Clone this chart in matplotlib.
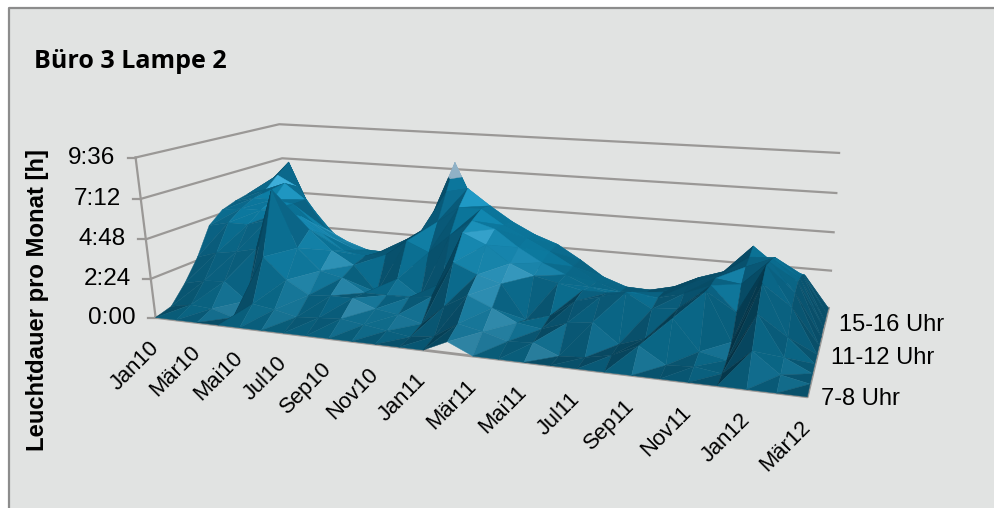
import numpy as np
import matplotlib
matplotlib.use("Agg")
import matplotlib.pyplot as plt
from matplotlib.collections import PolyCollection
from matplotlib.colors import LinearSegmentedColormap

title = "Büro 3 Lampe 2"
ylabel = "Leuchtdauer pro Monat [h]"
months = ["Jan10", "Feb10", "Mär10", "Apr10", "Mai10", "Jun10", "Jul10", "Aug10", "Sep10",
          "Okt10", "Nov10", "Dez10", "Jan11", "Feb11", "Mär11", "Apr11", "Mai11", "Jun11",
          "Jul11", "Aug11", "Sep11", "Okt11", "Nov11", "Dez11", "Jan12", "Feb12", "Mär12"]
hours = ["7-8 Uhr", "8-9 Uhr", "9-10 Uhr", "10-11 Uhr", "11-12 Uhr", "12-13 Uhr",
         "13-14 Uhr", "14-15 Uhr", "15-16 Uhr", "16-17 Uhr", "17-18 Uhr"]
zticks = [0, 2.4, 4.8, 7.2, 9.6]
zticklabels = ["0:00", "2:24", "4:48", "7:12", "9:36"]

# Stunden pro Monat, eine Liste je Tageszeit
h07 = [0, 0, 0, 0, 0, 0, 0, 0, 0, 0, 0, 0, 0, 0.65, 0, 0, 0, 0, 0, 0, 0, 0, 0, 0, 0, 0, 0]
h08 = [0.25, 0.5, 0.4, 0, 1.0, 0.8, 0.5, 0.6, 0.7, 0.5, 0.3, 0.1, 0.3, 1.2, 0.9, 0.5, 0.6, 0, 0.1, 0.4, 1.1, 0.2, 0.3, 0.1, 1.5, 0.4, 0.1]
h09 = [1.3, 1.6, 1.7, 0.6, 3.5, 2.2, 1.4, 1.5, 1.5, 1.0, 0.8, 0.4, 1.6, 2.4, 1.8, 1.1, 0.9, 1.4, 1.6, 0.5, 1.0, 2.3, 0.6, 0.3, 3.0, 0.8, 0.1]
h10 = [2.6, 3.0, 3.2, 3.5, 7.3, 3.8, 2.5, 2.2, 1.4, 1.4, 1.4, 1.6, 3.8, 3.2, 2.8, 0.8, 1.2, 2.2, 2.6, 3.0, 2.2, 2.4, 3.5, 0.8, 4.2, 1.4, 0.1]
h11 = [4.3, 4.6, 4.6, 5.0, 5.6, 4.6, 3.4, 2.6, 1.0, 2.0, 1.0, 2.0, 5.2, 4.6, 3.6, 3.0, 2.7, 2.4, 2.4, 2.6, 2.4, 2.8, 3.4, 2.0, 4.8, 2.6, 0.1]
h12 = [5.0, 5.2, 5.2, 5.2, 5.0, 4.0, 3.0, 2.8, 3.0, 4.0, 3.4, 4.6, 5.6, 5.2, 4.2, 3.4, 2.8, 2.2, 1.9, 2.0, 2.3, 2.9, 3.4, 3.2, 4.6, 3.0, 0.1]
h13 = [5.3, 5.6, 5.6, 5.4, 4.2, 3.3, 2.7, 2.6, 3.1, 3.9, 5.0, 6.0, 6.0, 5.1, 4.4, 3.7, 2.9, 2.1, 1.6, 1.6, 2.0, 2.6, 3.2, 3.8, 4.4, 3.2, 0.1]
h14 = [5.5, 5.9, 6.4, 5.4, 3.5, 2.8, 2.35, 2.3, 3.3, 4.2, 6.6, 6.9, 5.9, 5.0, 4.3, 3.8, 2.95, 2.0, 1.5, 1.45, 1.8, 2.5, 3.0, 4.0, 4.1, 3.0, 0.2]
h15 = [5.4, 6.6, 5.9, 3.8, 2.4, 1.8, 1.4, 1.4, 2.2, 3.4, 8.2, 5.2, 4.4, 3.8, 3.0, 2.6, 1.8, 1.0, 0.6, 0.6, 1.0, 1.6, 2.2, 4.3, 3.2, 2.8, 0.1]
h16 = [4.2, 7.25, 4.0, 2.4, 1.4, 0.9, 0.7, 0.7, 1.2, 2.2, 5.0, 3.4, 2.8, 2.4, 1.8, 1.4, 0.8, 0.4, 0.2, 0.2, 0.5, 0.9, 1.2, 2.6, 2.4, 2.4, 0.1]
h17 = [1.5, 2.5, 1.6, 0.9, 0.5, 0.3, 0.2, 0.2, 0.4, 0.9, 1.8, 1.2, 1.0, 0.8, 0.6, 0.4, 0.2, 0.1, 0, 0, 0.1, 0.3, 0.5, 1.0, 1.2, 1.9, 0]
Z = np.array([h07, h08, h09, h10, h11, h12, h13, h14, h15, h16, h17])

nrow, ncol = Z.shape
zmax = zticks[-1]
band_top = 7.3  # oberstes Band ist heller

# Ecken des 3D-Rahmens: (u, v, w) -> Pixel, daraus die Perspektivmatrix
frame = [((0, 0, 0), (151, 316)), ((1, 0, 0), (808, 397)), ((1, 1, 0), (827, 308)), ((0, 1, 0), (295, 258)),
         ((0, 0, 1), (137, 158)), ((0, 0, 1), (137, 158)), ((0, 0, 1), (137, 158)),
         ((1, 1, 1), (840, 153)), ((0, 1, 1), (275, 123))]
A, b = [], []
for (u, v, w), (x, y) in frame:
    A.append([u, v, w, 1, 0, 0, 0, 0, -u * x, -v * x, -w * x])
    A.append([0, 0, 0, 0, u, v, w, 1, -u * y, -v * y, -w * y])
    b += [x, y]
P = np.append(np.linalg.lstsq(np.array(A, float), np.array(b, float), rcond=None)[0], 1).reshape(3, 4)


def project(m, r, z):
    p = P @ np.array([m / (ncol - 1), r / (nrow - 1), z / zmax, 1.0])
    return p[:2] / p[2]


stops = [(-0.2, "#05364a"), (0.2, "#06465f"), (0.7, "#0a5a78"), (0.85, "#0a6788"),
         (0.93, "#0c7599"), (0.98, "#1c85ab"), (1.0, "#3597bc")]
cmap = LinearSegmentedColormap.from_list("lamp", [((s + 0.2) / 1.2, c) for s, c in stops])


def shade(a, b, c):
    # Flachschattierung aus der Dreiecksnormale, Licht von rechts vorn oben; hoehere Flaechen heller
    scale = np.array([3.2 / (ncol - 1), 1.3 / (nrow - 1), 1.3 / zmax])
    n = np.cross((b - a) * scale, (c - a) * scale)
    n = n / np.linalg.norm(n)
    if n[2] < 0:
        n = -n
    n[1] = -abs(n[1])
    L = np.array([0.45, -0.55, 0.7])
    s = n @ (L / np.linalg.norm(L))
    rgb = np.array(cmap(np.clip((s + 0.2) / 1.2, 0, 1))[:3])
    zmean = min((a[2] + b[2] + c[2]) / 3, 7)
    return tuple(np.clip(rgb * (0.84 + 0.36 * zmean / 7), 0, 1))


def split_band(tri, level):
    # Dreieck an der Bandgrenze in unteren und oberen Teil zerlegen
    lower, upper = [], []
    for i in range(3):
        p, q = tri[i], tri[(i + 1) % 3]
        (lower if p[2] <= level else upper).append(p)
        if (p[2] - level) * (q[2] - level) < 0:
            t = (level - p[2]) / (q[2] - p[2])
            x = p + t * (q - p)
            lower.append(x)
            upper.append(x)
    return lower, upper


polys, colors = [], []
for r in range(nrow - 2, -1, -1):
    for m in range(ncol - 1):
        a = np.array([m, r, Z[r, m]], float)
        bb = np.array([m + 1, r, Z[r, m + 1]], float)
        c = np.array([m + 1, r + 1, Z[r + 1, m + 1]], float)
        d = np.array([m, r + 1, Z[r + 1, m]], float)
        for tri in ([a, d, c], [a, c, bb]):
            col = shade(*tri)
            lower, upper = split_band(tri, band_top)
            if len(lower) > 2:
                polys.append([project(*p) for p in lower])
                colors.append(col)
            if len(upper) > 2:
                polys.append([project(*p) for p in upper])
                colors.append("#8fb1c6")

fig = plt.figure(figsize=(9.95, 5.08), dpi=100, facecolor="white")
ax = fig.add_axes([0, 0, 1, 1])
ax.set_xlim(0, 995)
ax.set_ylim(508, 0)
ax.axis("off")

# Diagrammflaeche, nur oben und links mit Rand
ax.fill([9, 995, 995, 9], [8, 8, 508, 508], color="#e1e3e2", zorder=0)
ax.plot([9, 9, 995], [508, 8, 8], color="#8c8c8c", lw=1.6, zorder=1, solid_capstyle="butt")

grid = "#9a9896"
for z in zticks:
    pts = np.array([project(0, 0, z), project(0, nrow - 1, z), project(ncol - 1, nrow - 1, z)])
    ax.plot(pts[:, 0], pts[:, 1], color=grid, lw=1.6, zorder=2)
    p = project(0, 0, z)
    ax.plot([p[0] - 8, p[0]], [p[1], p[1]], color=grid, lw=1.6, zorder=2)

edge = np.array([project(0, 0, 0), project(0, 0, zmax)])
ax.plot(edge[:, 0], edge[:, 1], color=grid, lw=1.6, zorder=2)
edge = np.array([project(0, 0, 0), project(ncol - 1, 0, 0), project(ncol - 1, nrow - 1, 0)])
ax.plot(edge[:, 0], edge[:, 1], color=grid, lw=2.0, zorder=2)

ax.add_collection(PolyCollection(polys, facecolors=colors, edgecolors=colors, linewidths=0.3, zorder=3))

ax.text(34, 61, title, fontfamily="Open Sans", fontweight="bold", fontsize=18, va="center", ha="left")
ax.text(38, 300, ylabel, fontfamily="Liberation Sans", fontweight="bold", fontsize=17.2,
        rotation=90, va="center", ha="center")

for z, lab in zip(zticks, zticklabels):
    p = project(0, 0, z)
    ax.text(p[0] - 20, p[1], lab, fontfamily="Liberation Sans", fontsize=17.5, ha="right", va="center")

for m in range(0, ncol, 2):
    p = project(m, 0, 0)
    ax.text(p[0], p[1] + 27, months[m], fontfamily="Liberation Sans", fontsize=15.8,
            rotation=45, rotation_mode="anchor", ha="right", va="center")

for r in (0, 4, 8):
    p = project(ncol - 1, r, 0)
    ax.text(p[0] + 14, p[1] + 2, hours[r], fontfamily="Liberation Sans", fontsize=17, ha="left", va="center")

fig.savefig("out.png", dpi=100)
